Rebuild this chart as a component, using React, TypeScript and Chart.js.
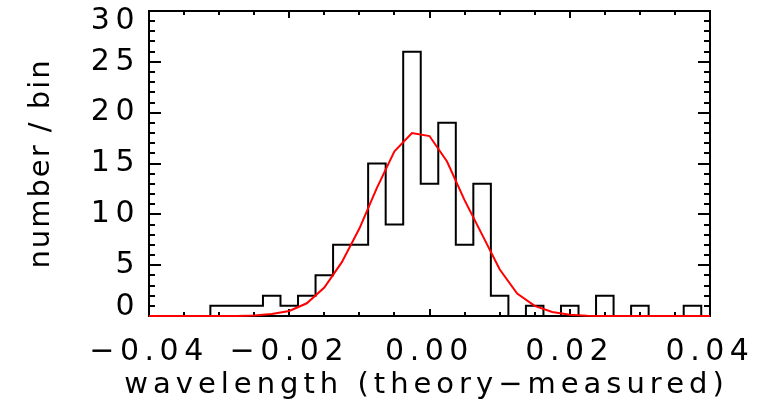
import { useEffect, useRef } from 'react';
import { Chart, registerables } from 'chart.js';

Chart.register(...registerables);

// Bin centres of the histogram (bin width 0.0025)
const binCenters = [
  -0.04, -0.0375, -0.035, -0.0325, -0.03, -0.0275, -0.025, -0.0225, -0.02, -0.0175, -0.015,
  -0.0125, -0.01, -0.0075, -0.005, -0.0025, 0, 0.0025, 0.005, 0.0075, 0.01, 0.0125, 0.015,
  0.0175, 0.02, 0.0225, 0.025, 0.0275, 0.03, 0.0325, 0.035, 0.0375, 0.04,
];

// Number of lines per bin
const binCounts = [
  0, 0, 0, 0, 1, 1, 1, 2, 1, 2, 4,
  7, 7, 15, 9, 26, 13, 19, 7, 13, 2, 0, 1,
  0, 1, 0, 2, 0, 1, 0, 0, 1, 0,
];

// Gaussian fit evaluated at the bin centres
const fitValues = [
  0, 0, 0, 0, 0, 0.01, 0.05, 0.2, 0.5, 1.25, 2.8,
  5.3, 8.6, 12.6, 16.2, 18.0, 17.7, 15.2, 11.4, 8.0, 4.6, 2.2, 1.0,
  0.4, 0.12, 0.03, 0, 0, 0, 0, 0, 0, 0,
];

const xTickValues = [-0.04, -0.02, 0, 0.02, 0.04];
const yTickValues = [0, 5, 10, 15, 20, 25, 30];

const xTitle = 'wavelength (theory\u2212measured)';
const yTitle = 'number / bin';

const X_MINOR_STEP = 0.005;
const Y_MINOR_STEP = 1;

const FONT_FAMILY = '"DejaVu Sans", sans-serif';

const formatX = (v: number) => v.toFixed(2).replace('-', '\u2212');

// Closed box with inward-pointing major/minor ticks on all four sides
const frameTicks = {
  id: 'frameTicks',
  beforeDatasetsDraw(chart: any) {
    const { ctx, chartArea, scales } = chart;
    const { left, right, top, bottom } = chartArea;
    const xs = scales.x;
    const ys = scales.y;
    ctx.save();
    ctx.strokeStyle = '#000';
    ctx.lineWidth = 2;
    ctx.beginPath();
    ctx.rect(left, top, right - left, bottom - top);
    ctx.stroke();

    ctx.beginPath();
    const nx = Math.round((xs.max - xs.min) / X_MINOR_STEP);
    for (let i = 0; i <= nx; i++) {
      const v = xs.min + i * X_MINOR_STEP;
      const px = Math.round(xs.getPixelForValue(v));
      const len = i % 4 === 0 ? 7 : 4;
      ctx.moveTo(px, bottom);
      ctx.lineTo(px, bottom - len);
      ctx.moveTo(px, top);
      ctx.lineTo(px, top + len);
    }
    const ny = Math.round((ys.max - ys.min) / Y_MINOR_STEP);
    for (let i = 0; i <= ny; i++) {
      const v = ys.min + i * Y_MINOR_STEP;
      const py = Math.round(ys.getPixelForValue(v));
      const len = i % 5 === 0 ? 12 : 6;
      ctx.moveTo(left, py);
      ctx.lineTo(left + len, py);
      ctx.moveTo(right, py);
      ctx.lineTo(right - len, py);
    }
    ctx.stroke();
    ctx.restore();
  },
};

// Wide-set x axis title, allowed to run past the plot edges
const xAxisTitle = {
  id: 'xAxisTitle',
  afterDraw(chart: any) {
    const { ctx, chartArea } = chart;
    ctx.save();
    ctx.letterSpacing = '5px';
    ctx.font = `29px ${FONT_FAMILY}`;
    ctx.fillStyle = '#000';
    ctx.textAlign = 'center';
    ctx.textBaseline = 'alphabetic';
    ctx.fillText(xTitle, (chartArea.left + chartArea.right) / 2 - 3, chartArea.bottom + 77);
    ctx.restore();
  },
};

// Text spacing: tick labels are drawn before the datasets, the y title after them
const textSpacing = {
  id: 'textSpacing',
  beforeDraw(chart: any) {
    chart.ctx.letterSpacing = '5.5px';
  },
  afterDatasetsDraw(chart: any) {
    chart.ctx.letterSpacing = '2px';
  },
};

export default function App() {
  const canvasRef = useRef<HTMLCanvasElement | null>(null);

  useEffect(() => {
    const canvas = canvasRef.current;
    if (!canvas) return;

    const chart = new Chart(canvas, {
      type: 'line',
      data: {
        datasets: [
          {
            label: 'fit',
            data: binCenters.map((x, i) => ({ x, y: fitValues[i] })),
            borderColor: '#ff0000',
            borderWidth: 2,
            pointRadius: 0,
            tension: 0,
            fill: false,
            clip: 3,
            order: 1,
          },
          {
            label: 'histogram',
            data: binCenters.map((x, i) => ({ x, y: binCounts[i] })),
            borderColor: '#000000',
            borderWidth: 2,
            pointRadius: 0,
            stepped: 'middle',
            fill: false,
            clip: 2,
            order: 2,
          },
        ],
      },
      options: {
        animation: false,
        responsive: false,
        events: [],
        layout: { padding: { top: 11, right: 54, left: 0, bottom: 0 } },
        plugins: {
          legend: { display: false },
          tooltip: { enabled: false },
        },
        scales: {
          x: {
            type: 'linear',
            min: -0.04,
            max: 0.04,
            afterBuildTicks: (s: any) => {
              s.ticks = xTickValues.map((v) => ({ value: v }));
            },
            afterFit: (s: any) => {
              s.height = 93;
              s.paddingLeft = 0;
              s.paddingRight = 0;
            },
            grid: { display: false, drawTicks: false },
            border: { display: false },
            ticks: {
              autoSkip: false,
              maxRotation: 0,
              padding: 18,
              color: '#000',
              font: { family: FONT_FAMILY, size: 30 },
              callback: (v: any) => formatX(Number(v)),
            },
            title: { display: false },
          },
          y: {
            type: 'linear',
            min: 0,
            max: 30,
            afterBuildTicks: (s: any) => {
              s.ticks = yTickValues.map((v) => ({ value: v }));
            },
            afterFit: (s: any) => {
              s.width = 149;
              s.paddingTop = 0;
              s.paddingBottom = 0;
            },
            grid: { display: false, drawTicks: false, z: 1 },
            border: { display: false },
            ticks: {
              z: 0,
              autoSkip: false,
              padding: 9,
              color: '#000',
              // end labels sit inside the axis range: shift them with an empty line
              font: (c: any) => {
                const v = c.tick ? c.tick.value : null;
                const lh = v === 0 ? '18px' : v === 30 ? '20px' : 1.2;
                return { family: FONT_FAMILY, size: 30, lineHeight: lh };
              },
              callback: (v: any) => {
                const n = Number(v);
                if (n === 0) return ['0', ''];
                if (n === 30) return ['', '30'];
                return String(n);
              },
            },
            title: {
              display: true,
              text: yTitle,
              color: '#000',
              font: { family: FONT_FAMILY, size: 29 },
              padding: { top: 24, bottom: 0 },
            },
          },
        },
      },
      plugins: [frameTicks, textSpacing, xAxisTitle],
    } as any);

    return () => chart.destroy();
  }, []);

  return (
    <div
      style={{
        position: 'fixed',
        left: 0,
        top: 0,
        width: 764,
        height: 409,
        background: '#fff',
      }}
    >
      <canvas ref={canvasRef} width={764} height={409} />
    </div>
  );
}
